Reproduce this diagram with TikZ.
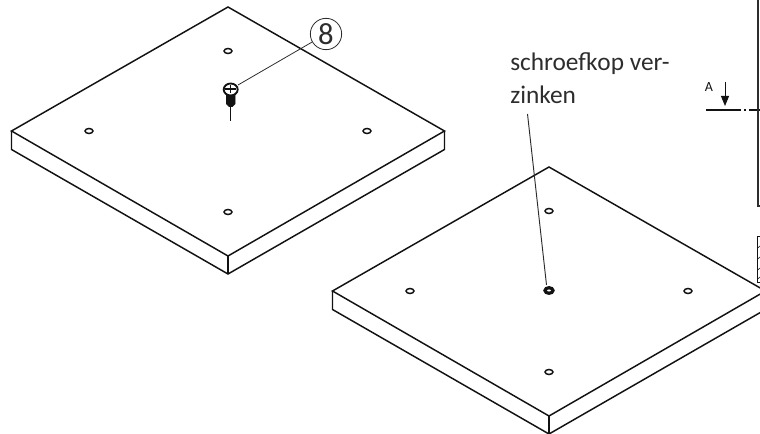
\documentclass[tikz,border=0pt]{standalone}
\usepackage{fontspec}
\usepackage{xcolor}
\setmainfont{Carlito}
\usetikzlibrary{arrows.meta}
\usetikzlibrary{positioning}

\tikzset{
	edge/.style={line width=1.1pt, color=ALMOST_BLACK},
	hole/.style={line width=1.1pt, color=ALMOST_BLACK, fill=WHITE},
	leader/.style={line width=0.6pt, color=DARK_GRAY},
	callout/.style={circle, draw=DARK_GRAY, line width=0.6pt, inner sep=0pt, minimum size=23.5pt, font=\fontsize{23}{23}\selectfont, text=DARK_GRAY},
	caption/.style={align=left, anchor=north west, inner sep=0pt, font=\fontsize{19}{24.75}\selectfont, text=DARK_GRAY}
}

% one plate, top corner at y=7
\newcommand{\plate}{
	\draw[edge] (11.5, 131) -- (228, 7) -- (444.5, 131) -- (228, 256) -- cycle;
	\draw[edge] (11.5, 131) -- (11.5, 149.5) -- (228, 274) -- (444.5, 149.5) -- (444.5, 131);
	\draw[edge] (228, 256) -- (228, 274);
	\foreach \hx/\hy in {228/51, 89/131, 367/131, 228/212}
		\draw[hole] (\hx, \hy) ellipse (4 and 2.5);
}

\begin{document}
\begin{tikzpicture}[x=0.75pt, y=-0.75pt]
	\definecolor{WHITE}{RGB}{255, 255, 255}
	\definecolor{DARK_GRAY}{RGB}{45, 45, 45}
	\definecolor{ALMOST_BLACK}{RGB}{18, 18, 18}
	\useasboundingbox (0, 0) rectangle (760, 434);
	\clip (0, 0) rectangle (760, 434);

	\begin{scope}
		\plate
	\end{scope}

	\begin{scope}[shift={(321, 160)}]
		\plate
	\end{scope}

	% screw
	\draw[edge] (230.7, 106) -- (230.7, 121);
	\draw[ALMOST_BLACK, fill=ALMOST_BLACK] (226.5, 93) -- (226.5, 104) -- (229, 106.5) -- (232.5, 106.5) -- (235, 104) -- (235, 93) -- cycle;
	\draw[line width=1.4pt, ALMOST_BLACK, fill=WHITE] (230.7, 89.5) ellipse (7 and 6);
	\draw[line width=1pt, ALMOST_BLACK] (225, 89) -- (236, 89) (230.7, 85) -- (230.7, 93);
	\coordinate (screwhead) at (238, 85);

	% zinc coated head
	\draw[line width=2.4pt, ALMOST_BLACK, fill=WHITE] (549, 290.5) ellipse (4 and 2.8);
	\coordinate (screwtop) at (546.5, 285);

	\node[callout] (eight) at (326, 34) {8};
	\draw[leader] (eight) -- (screwhead);

	\node[caption] (zinc) at (510, 52) {schroefkop ver-\\zinken};
	\coordinate (zincfoot) at (527.5, 114);
	\draw[leader, line width=0.7pt] (zincfoot) -- (screwtop);

	% section mark and sheet frame
	\node[inner sep=0pt, font=\fontsize{10.5}{10.5}\selectfont, text=ALMOST_BLACK] (secA) at (709, 87) {A};
	\coordinate (arrowtop) at (725, 82);
	\coordinate (arrowtip) at (725, 106);
	\draw[line width=0.7pt, ALMOST_BLACK, -{Triangle[length=7.5pt, width=6pt]}] (arrowtop) -- (arrowtip);
	\draw[edge] (706, 110) -- (741, 110);
	\draw[edge] (744, 110) -- (746, 110);
	\draw[edge] (749, 110) -- (760, 110);
	\draw[line width=1.2pt, DARK_GRAY] (758, 0) -- (758, 206) -- (760, 206);
	\draw[edge, line width=0.8pt] (760, 236.5) -- (757.7, 236.5) -- (757.7, 282.5) -- (760, 282.5);
	\foreach \ty in {248, 259, 270, 279}
		\draw[line width=0.5pt, DARK_GRAY] (757.7, \ty) -- (760, \ty-2);
\end{tikzpicture}
\end{document}
